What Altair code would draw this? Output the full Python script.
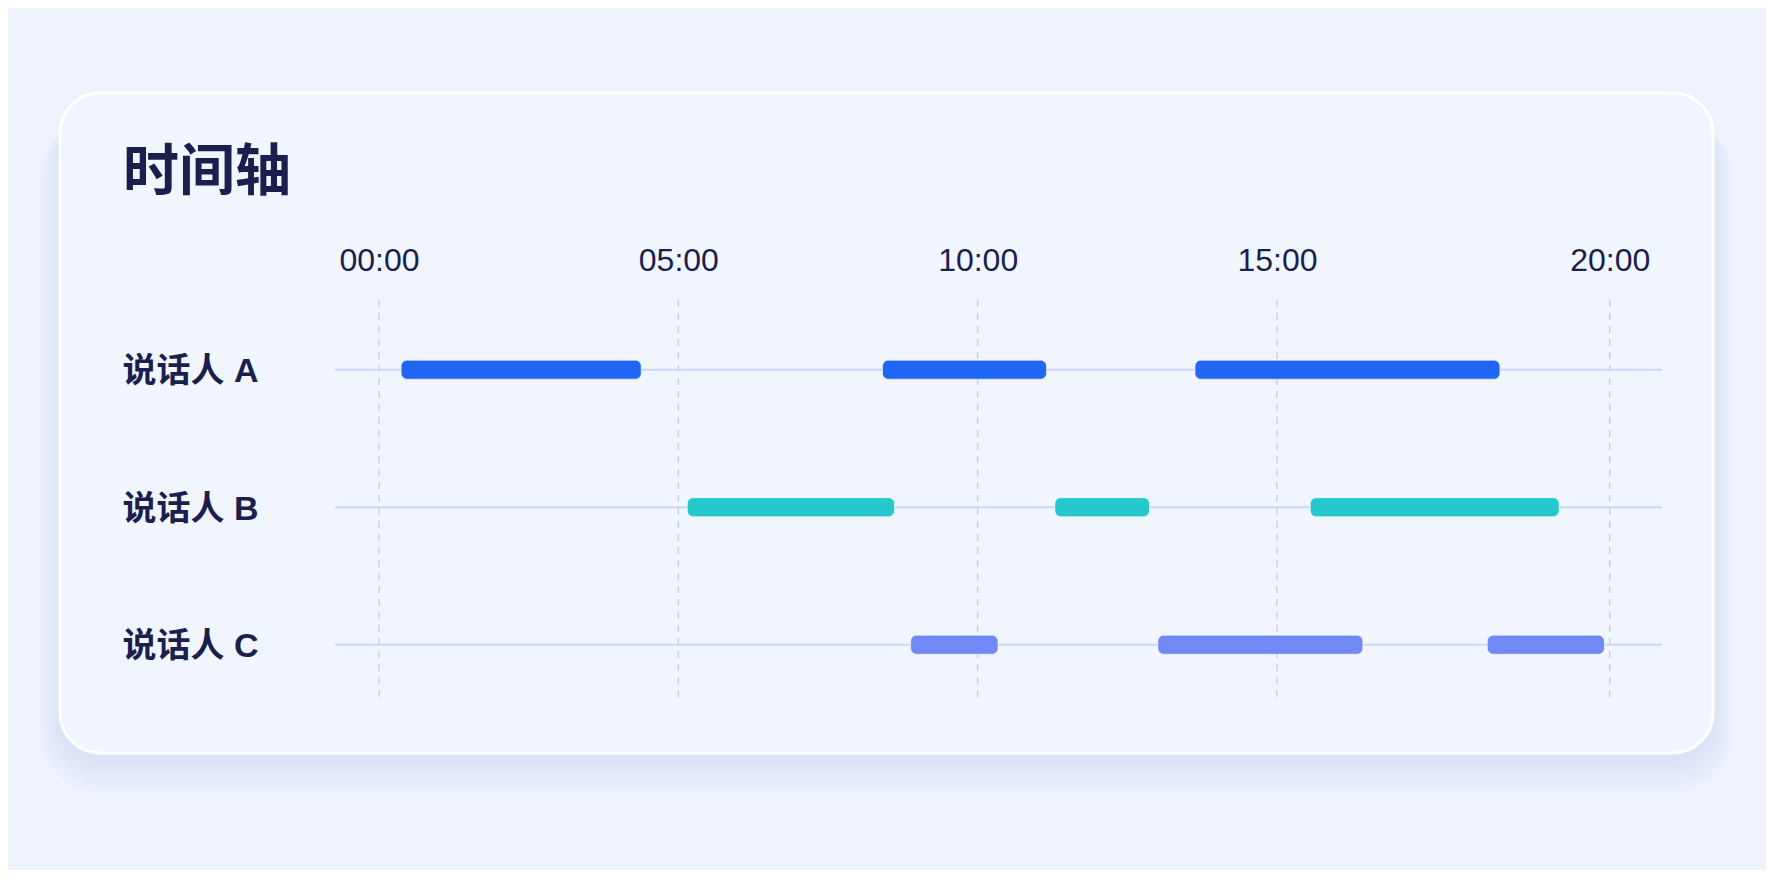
import json
import altair as alt
import pandas as pd

# ---------------- data ----------------
speakers = ["说话人 A", "说话人 B", "说话人 C"]
seg_speaker = ["说话人 A", "说话人 A", "说话人 A",
               "说话人 B", "说话人 B", "说话人 B",
               "说话人 C", "说话人 C", "说话人 C"]
seg_start = [0.37, 8.41, 13.63, 5.15, 11.29, 15.50, 8.88, 13.01, 18.16]
seg_end = [4.38, 11.15, 18.35, 8.61, 12.87, 19.24, 10.34, 16.29, 19.92]
tick_values = [0, 5, 10, 15, 20]
tick_labels = ["00:00", "05:00", "10:00", "15:00", "20:00"]
bar_colors = ["#2166f3", "#25c8cd", "#7189f4"]
title_text = "时间轴"

# ---------------- layout / style ----------------
W, H = 1327, 397
PAD = {"left": 327, "top": 292, "right": 104, "bottom": 173}
INK = "#1a1f4d"
CJK = "Noto Sans CJK SC"
MIXED = "Liberation Sans, Noto Sans CJK SC"

segments = pd.DataFrame({"speaker": seg_speaker, "start": seg_start, "end": seg_end})
rows = pd.DataFrame({"speaker": speakers})
ticks = pd.DataFrame({"t": tick_values})
dummy = alt.Data(values=[{"a": 1}])

label_expr = "{}[indexof({}, datum.value)]".format(json.dumps(tick_labels), json.dumps(tick_values))

x_scale = alt.Scale(domain=[0, 15, 20], range=[44, 942, 1274.7], zero=False, nice=False)
y_scale = alt.Scale(type="point", domain=speakers, range=[69.7, 344.7], padding=0)

x_axis = alt.Axis(orient="top", values=tick_values, labelExpr=label_expr, title=None,
                  labelFont="Liberation Sans", labelFontSize=32, labelColor=INK,
                  labelPadding=23, ticks=False, tickSize=0, domain=False, grid=False,
                  labelFlush=False, labelOverlap=False, labelBound=False, zindex=1)
y_axis = alt.Axis(title=None, labelFont=MIXED, labelFontWeight="bold", labelFontSize=34,
                  labelColor=INK, labelAlign="left", labelBaseline="middle",
                  labelPadding=213, labelOffset=2, ticks=False, tickSize=0,
                  domain=False, grid=False, labelLimit=0, zindex=1)

# card shadow (soft, mostly below the card)
shadow_layers = []
for e in [3, 9, 15, 21, 27, 33]:
    shadow_layers.append(
        alt.Chart(dummy).mark_rect(cornerRadius=40 + e * 0.6, fill="#aebfec", opacity=0.05).encode(
            x=alt.value(-275 - e * 0.6), x2=alt.value(1378 + e * 0.6),
            y=alt.value(-207 + 24), y2=alt.value(453 + 6 + e))
    )

card = alt.Chart(dummy).mark_rect(cornerRadius=40, fill="#f1f5fe", stroke="#ffffff",
                                  strokeWidth=3).encode(
    x=alt.value(-275), x2=alt.value(1378), y=alt.value(-207), y2=alt.value(453))

title = alt.Chart(pd.DataFrame({"label": [title_text]})).mark_text(
    align="left", baseline="alphabetic", font=CJK, fontSize=56, fontWeight="bold", color=INK
).encode(text="label:N", x=alt.value(-212), y=alt.value(-110))

grid = alt.Chart(ticks).mark_rule(color="#c6d1ea", strokeWidth=1.5, strokeDash=[7, 6]).encode(
    x=alt.X("t:Q", scale=x_scale, axis=x_axis), y=alt.value(0), y2=alt.value(H))

row_lines = alt.Chart(rows).mark_rule(color="#c9d7f2", strokeWidth=2).encode(
    y=alt.Y("speaker:N", scale=y_scale, axis=y_axis), x=alt.value(0), x2=alt.value(W))

bars = alt.Chart(segments).mark_bar(size=19, cornerRadius=6, stroke="#ffffff",
                                    strokeOpacity=0.6, strokeWidth=1).encode(
    x=alt.X("start:Q", scale=x_scale, axis=x_axis),
    x2="end:Q",
    y=alt.Y("speaker:N", scale=y_scale, axis=y_axis),
    color=alt.Color("speaker:N", scale=alt.Scale(domain=speakers, range=bar_colors), legend=None),
)

chart = alt.layer(*shadow_layers, card, title, grid, row_lines, bars).properties(
    width=W, height=H, padding=PAD, autosize=alt.AutoSizeParams(type="none"),
    background="#edf2fc",
).configure_view(stroke=None)

chart.save("out.html", embed_options={"renderer": "svg", "actions": False})
